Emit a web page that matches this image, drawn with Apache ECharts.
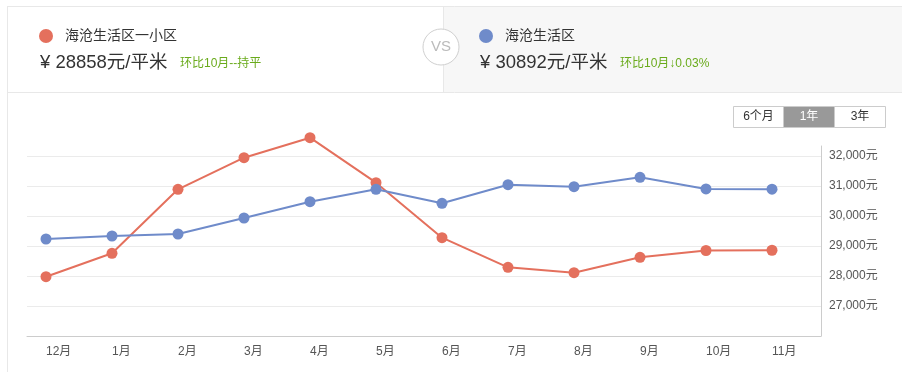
<!DOCTYPE html>
<html><head><meta charset="utf-8">
<script src="https://cdn.jsdelivr.net/npm/echarts@6/dist/echarts.min.js"></script>
<style>html,body{margin:0;padding:0;background:#fff}#c{width:902px;height:372px}</style>
</head><body><div id="c"></div>
<script>
const months = ['12月','1月','2月','3月','4月','5月','6月','7月','8月','9月','10月','11月'];
const communityName = '海沧生活区一小区';
const districtName = '海沧生活区';
const communityPrice = [27977, 28757, 30890, 31943, 32610, 31110, 29277, 28290, 28110, 28623, 28850, 28858];
const districtPrice = [29233, 29333, 29400, 29933, 30477, 30890, 30423, 31043, 30977, 31290, 30901, 30892];
const yTicks = [27000, 28000, 29000, 30000, 31000, 32000];
const periodButtons = ['6个月', '1年', '3年'];

const RED = '#e4705d', BLUE = '#6f8bca', GREEN = '#6aab1c';
const FONT = '"Liberation Sans", "Noto Sans CJK SC", sans-serif';
const yMin = 26000, yMax = 32333;

const chart = echarts.init(document.getElementById('c'), null, {renderer: 'canvas'});

const graphics = [
  {type:'rect', shape:{x:443, y:6, width:459, height:86}, style:{fill:'#f7f7f7'}, silent:true},
  {type:'line', shape:{x1:7, y1:6.5, x2:902, y2:6.5}, style:{stroke:'#e8e8e8', lineWidth:1}},
  {type:'line', shape:{x1:7, y1:92.5, x2:902, y2:92.5}, style:{stroke:'#e8e8e8', lineWidth:1}},
  {type:'line', shape:{x1:7.5, y1:6, x2:7.5, y2:372}, style:{stroke:'#e8e8e8', lineWidth:1}},
  {type:'line', shape:{x1:443.5, y1:6, x2:443.5, y2:92}, style:{stroke:'#e8e8e8', lineWidth:1}},
  {type:'circle', shape:{cx:441, cy:47, r:18}, style:{fill:'#fff', stroke:'#cfcfcf', lineWidth:1}},
  {type:'text', x:441, y:47, style:{text:'VS', fill:'#bbb', font:'15px ' + FONT, align:'center', verticalAlign:'middle'}},
  {type:'circle', shape:{cx:46, cy:36, r:7}, style:{fill:RED}},
  {type:'text', x:65, y:36, style:{text:communityName, fill:'#333', font:'14px ' + FONT, verticalAlign:'middle'}},
  {type:'text', x:40, y:63, style:{text:'¥ ' + communityPrice[11] + '元/平米', fill:'#333', font:'18.5px ' + FONT, verticalAlign:'middle'}},
  {type:'text', x:180, y:64, style:{text:'环比10月--持平', fill:GREEN, font:'12px ' + FONT, verticalAlign:'middle'}},
  {type:'circle', shape:{cx:486, cy:36, r:7}, style:{fill:BLUE}},
  {type:'text', x:505, y:36, style:{text:districtName, fill:'#333', font:'14px ' + FONT, verticalAlign:'middle'}},
  {type:'text', x:480, y:63, style:{text:'¥ ' + districtPrice[11] + '元/平米', fill:'#333', font:'18.5px ' + FONT, verticalAlign:'middle'}},
  {type:'text', x:620, y:64, style:{text:'环比10月↓0.03%', fill:GREEN, font:'12px ' + FONT, verticalAlign:'middle'}}
];
const bx = [733, 783, 834], bw = [50, 51, 51];
periodButtons.forEach((t, i) => {
  const active = i === 1;
  graphics.push({type:'rect', shape:{x:bx[i]+0.5, y:106.5, width:bw[i], height:21}, style:{fill: active ? '#999' : '#fff', stroke:'#ccc', lineWidth:1}});
  graphics.push({type:'text', x:bx[i] + bw[i]/2 + 0.5, y:117, style:{text:t, fill: active ? '#fff' : '#333', font:'12px ' + FONT, align:'center', verticalAlign:'middle'}});
});

chart.setOption({
  animation: false,
  textStyle: {fontFamily: FONT},
  graphic: graphics,
  grid: [
    {left: 27, right: 81, top: 146, bottom: 36},
    {left: 13, right: 97, top: 146, bottom: 36}
  ],
  xAxis: [
    {gridIndex: 0, type: 'category', data: months, boundaryGap: true,
     axisLine: {show: true, lineStyle: {color: '#ccc'}}, axisTick: {show: false}, axisLabel: {show: false}},
    {gridIndex: 1, type: 'category', data: months, boundaryGap: true,
     axisLine: {show: false}, axisTick: {show: false},
     axisLabel: {show: true, align: 'left', color: '#555', fontSize: 12, margin: 10, fontFamily: FONT}}
  ],
  yAxis: [
    {gridIndex: 0, type: 'value', position: 'right', min: yMin, max: yMax, interval: 1000,
     axisLine: {show: true, lineStyle: {color: '#ccc'}}, axisTick: {show: false},
     splitLine: {show: true, showMinLine: false, showMaxLine: false, lineStyle: {color: '#ebebeb'}},
     axisLabel: {show: true, showMinLabel: false, showMaxLabel: false, color: '#555', fontSize: 12, margin: 8, fontFamily: FONT,
       padding: [4, 0, 0, 0],
       formatter: v => yTicks.indexOf(v) >= 0 ? v.toLocaleString('en-US') + '元' : ''}},
    {gridIndex: 1, type: 'value', min: yMin, max: yMax, show: false, splitLine: {show: false}}
  ],
  series: [
    {name: communityName, type: 'line', xAxisIndex: 1, yAxisIndex: 1, data: communityPrice, clip: false,
     symbol: 'circle', symbolSize: 11, itemStyle: {color: RED}, lineStyle: {color: RED, width: 2}},
    {name: districtName, type: 'line', xAxisIndex: 1, yAxisIndex: 1, data: districtPrice, clip: false,
     symbol: 'circle', symbolSize: 11, itemStyle: {color: BLUE}, lineStyle: {color: BLUE, width: 2}}
  ]
});
</script></body></html>
